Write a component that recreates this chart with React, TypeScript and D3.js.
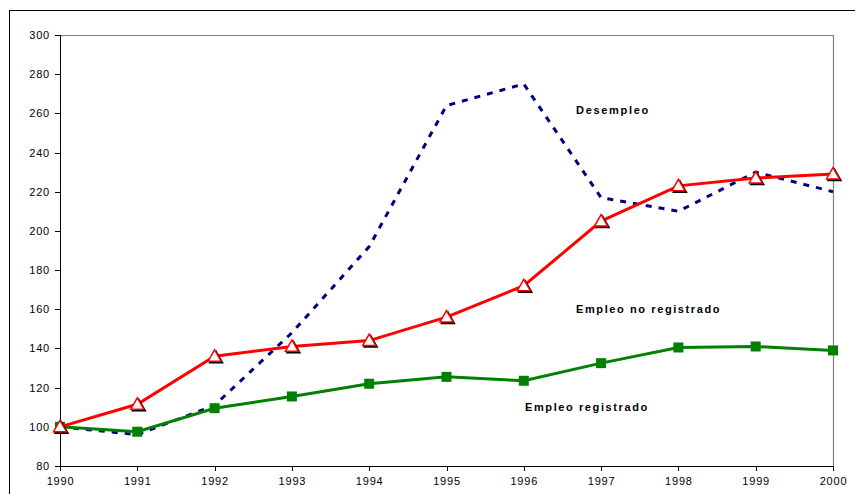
import React from "react";
import * as d3 from "d3";

const years = [1990, 1991, 1992, 1993, 1994, 1995, 1996, 1997, 1998, 1999, 2000];
const desempleo = [100, 96, 111, 148, 192, 264, 275, 217, 210, 230, 220];
const noRegistrado = [100, 111.5, 136, 141, 144, 156, 172, 205, 223, 227, 229];
const registrado = [100, 97.5, 109.5, 115.5, 122, 125.5, 123.5, 132.5, 140.5, 141, 139];
const yTicks = [80, 100, 120, 140, 160, 180, 200, 220, 240, 260, 280, 300];

const W = 855;
const H = 494;
const left = 60;
const right = 833;
const top = 35;
const bottom = 466;

export default function App() {
  const x = d3.scaleLinear().domain([1990, 2000]).range([left, right]);
  const y = d3.scaleLinear().domain([80, 300]).range([bottom, top]);
  const line = d3
    .line<number>()
    .x((_, i) => x(years[i]))
    .y((v) => y(v));

  const font = "'Liberation Sans', Arial, sans-serif";
  const tri = (cx: number, cy: number) => {
    const s = 6.5;
    return `M${cx},${cy - s} L${cx + s},${cy + s * 0.75} L${cx - s},${cy + s * 0.75} Z`;
  };

  return (
    <svg
      width={W}
      height={H}
      style={{ position: "absolute", left: 0, top: 0, background: "#fff" }}
    >
      <rect x={9.5} y={10.5} width={W + 10} height={H + 10} fill="#fff" stroke="#000" strokeWidth={1} />
      <line x1={left} x2={right} y1={top + 0.5} y2={top + 0.5} stroke="#808080" strokeWidth={1.2} />
      <line x1={right + 0.5} x2={right + 0.5} y1={top} y2={bottom} stroke="#808080" strokeWidth={1.2} />
      <line x1={left + 0.5} x2={left + 0.5} y1={top} y2={bottom} stroke="#000" strokeWidth={1} />
      <line x1={left} x2={right + 1} y1={bottom + 0.5} y2={bottom + 0.5} stroke="#000" strokeWidth={1} />
      {yTicks.map((t) => (
        <g key={t}>
          <line x1={left - 5} x2={left} y1={Math.round(y(t)) + 0.5} y2={Math.round(y(t)) + 0.5} stroke="#000" />
          <text x={50} y={y(t) + 4} textAnchor="end" fontSize={11} letterSpacing={0.8} fontFamily={font} fill="#000">
            {t}
          </text>
        </g>
      ))}
      {years.map((yr) => (
        <g key={yr}>
          <line x1={Math.round(x(yr)) + 0.5} x2={Math.round(x(yr)) + 0.5} y1={bottom} y2={bottom + 5} stroke="#000" />
          <text x={x(yr) + 0.5} y={485} textAnchor="middle" fontSize={11} letterSpacing={0.8} fontFamily={font} fill="#000">
            {yr}
          </text>
        </g>
      ))}
      <path
        d={line(desempleo) || ""}
        fill="none"
        stroke="#000080"
        strokeWidth={3}
        strokeDasharray="6,7"
      />
      <path d={line(registrado) || ""} fill="none" stroke="#008000" strokeWidth={3} />
      {registrado.map((v, i) => (
        <rect key={i} x={x(years[i]) - 5} y={y(v) - 5} width={10} height={10} fill="#008000" />
      ))}
      <path d={line(noRegistrado) || ""} fill="none" stroke="#ff0000" strokeWidth={3} />
      {noRegistrado.map((v, i) => (
        <g key={i}>
          <path d={tri(x(years[i]) + 1.5, y(v) + 1.5)} fill="#000" stroke="#000" strokeWidth={1.5} />
          <path d={tri(x(years[i]), y(v))} fill="#fff" stroke="#ff0000" strokeWidth={1.5} />
        </g>
      ))}
      <text x={576} y={114} fontSize={11} fontWeight="bold" fontFamily={font} letterSpacing={1.7} fill="#000">
        Desempleo
      </text>
      <text x={576} y={313} fontSize={11} fontWeight="bold" fontFamily={font} letterSpacing={1.6} fill="#000">
        Empleo no registrado
      </text>
      <text x={525} y={411} fontSize={11} fontWeight="bold" fontFamily={font} letterSpacing={1.6} fill="#000">
        Empleo registrado
      </text>
    </svg>
  );
}
